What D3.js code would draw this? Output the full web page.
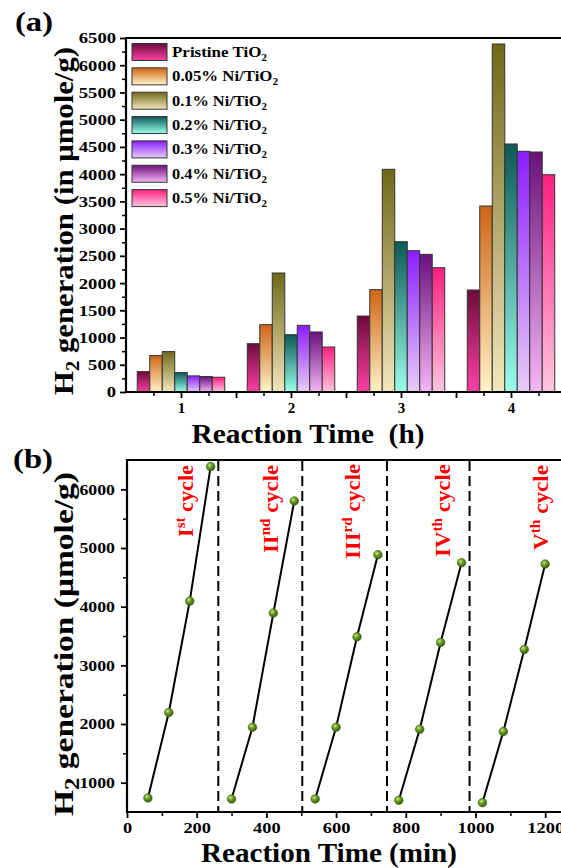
<!DOCTYPE html>
<html><head><meta charset="utf-8">
<script src="https://cdn.jsdelivr.net/npm/d3@7"></script>
<style>body{margin:0;background:#fff}svg{display:block}text{font-family:"Liberation Serif","Times New Roman",serif;font-weight:bold}</style>
</head><body>
<script>
// ---------- Data (a) ----------
const reactionHours = [1, 2, 3, 4];
const seriesNames = ["Pristine TiO", "0.05% Ni/TiO", "0.1% Ni/TiO", "0.2% Ni/TiO", "0.3% Ni/TiO", "0.4% Ni/TiO", "0.5% Ni/TiO"];
const pristineTiO2 = [375, 887, 1395, 1873];
const ni005 = [668, 1236, 1879, 3415];
const ni01 = [742, 2185, 4089, 6390];
const ni02 = [357, 1052, 2760, 4554];
const ni03 = [296, 1224, 2595, 4420];
const ni04 = [284, 1102, 2528, 4407];
const ni05 = [271, 826, 2283, 3990];
const seriesValues = [pristineTiO2, ni005, ni01, ni02, ni03, ni04, ni05];
const yTicksA = [0, 500, 1000, 1500, 2000, 2500, 3000, 3500, 4000, 4500, 5000, 5500, 6000, 6500];
const topColors = ["#6c0b3c", "#cf6516", "#6e6918", "#0d5956", "#8b1dff", "#6a117c", "#ff1f7f"];
const bottomColors = ["#ff40a6", "#fff3c6", "#f4e6bc", "#9affea", "#e8cdf6", "#f6b6f6", "#ffc6de"];

// ---------- Data (b) ----------
const cycleLabels = [["I","st"], ["II","nd"], ["III","rd"], ["IV","th"], ["V","th"]];
const cycleTimes = [[60,120,180,240],[300,360,420,480],[540,600,660,720],[780,840,900,960],[1020,1080,1140,1200]];
const cycleH2 = [[739,2196,4095,6387],[722,1945,3891,5802],[722,1945,3486,4886],[700,1911,3391,4749],[660,1872,3271,4727]];
const dividers = [262, 503, 746, 983];
const xTicksB = [0, 200, 400, 600, 800, 1000, 1200];
const yTicksB = [1000, 2000, 3000, 4000, 5000, 6000];

const W = 561, H = 868;
const svg = d3.select("body").append("svg").attr("width", W).attr("height", H);
const defs = svg.append("defs");

topColors.forEach((c, i) => {
  const g = defs.append("linearGradient").attr("id", "g" + i).attr("x1", 0).attr("y1", 0).attr("x2", 0).attr("y2", 1);
  g.append("stop").attr("offset", "0%").attr("stop-color", c);
  g.append("stop").attr("offset", "100%").attr("stop-color", bottomColors[i]);
});
const rg = defs.append("radialGradient").attr("id", "ball").attr("cx", "38%").attr("cy", "35%").attr("r", "65%");
rg.append("stop").attr("offset", "0%").attr("stop-color", "#c8e88a");
rg.append("stop").attr("offset", "45%").attr("stop-color", "#6a9a22");
rg.append("stop").attr("offset", "100%").attr("stop-color", "#3a5e0c");

// ---------- Panel (a) ----------
const xA = d3.scaleLinear().domain([0.5, 4.5]).range([126, 566]);
const yA = d3.scaleLinear().domain([0, 6500]).range([392, 38]);
const barW = 0.1136;

const gA = svg.append("g");
seriesValues.forEach((vals, si) => {
  gA.selectAll(null).data(reactionHours.map((t, k) => ({t, v: vals[k]}))).join("rect")
    .attr("x", d => xA(d.t + (si - 3.5) * barW))
    .attr("width", d => xA(d.t + (si - 2.5) * barW) - xA(d.t + (si - 3.5) * barW))
    .attr("y", d => yA(d.v))
    .attr("height", d => yA(0) - yA(d.v))
    .attr("fill", `url(#g${si})`)
    .attr("stroke", "#333").attr("stroke-width", 1);
});

function styleAxis(g, tickW) {
  g.select(".domain").remove();
  g.selectAll(".tick line").attr("stroke", "#000").attr("stroke-width", tickW);
  g.selectAll("text").attr("font-size", 15.5).attr("fill", "#000").attr("font-family", '"Liberation Serif",serif').attr("font-weight", "bold");
}
// y minor & major
const yAminor = gA.append("g").attr("transform", "translate(126,0)")
  .call(d3.axisLeft(yA).tickValues(d3.range(250, 6500, 500)).tickSize(4).tickFormat(""));
styleAxis(yAminor, 1.5);
const yAmajor = gA.append("g").attr("transform", "translate(126,0)")
  .call(d3.axisLeft(yA).tickValues(yTicksA).tickSize(6).tickPadding(4).tickFormat(d3.format("d")));
styleAxis(yAmajor, 1.8);
yAmajor.selectAll("text").attr("textLength", d => String(d).length * 9.3).attr("lengthAdjust", "spacingAndGlyphs");
// x ticks
const xAminor = gA.append("g").attr("transform", "translate(0,392)")
  .call(d3.axisBottom(xA).tickValues([0.75,1.25,1.75,2.25,2.75,3.25,3.75,4.25]).tickSize(4).tickFormat(""));
styleAxis(xAminor, 1.5);
const xAhalf = gA.append("g").attr("transform", "translate(0,392)")
  .call(d3.axisBottom(xA).tickValues([1.5,2.5,3.5]).tickSize(6).tickFormat(""));
styleAxis(xAhalf, 1.8);
const xAmajor = gA.append("g").attr("transform", "translate(0,392)")
  .call(d3.axisBottom(xA).tickValues(reactionHours).tickSize(6).tickPadding(4).tickFormat(d3.format("d")));
styleAxis(xAmajor, 1.8);
xAmajor.selectAll("text").attr("font-size", 15);
// frame
gA.append("line").attr("x1", 126).attr("x2", 561).attr("y1", 38).attr("y2", 38).attr("stroke", "#000").attr("stroke-width", 2);
gA.append("line").attr("x1", 126).attr("x2", 126).attr("y1", 37).attr("y2", 393).attr("stroke", "#000").attr("stroke-width", 2.2);
gA.append("line").attr("x1", 125).attr("x2", 561).attr("y1", 392).attr("y2", 392).attr("stroke", "#000").attr("stroke-width", 2.2);

// legend
const leg = gA.append("g");
seriesNames.forEach((name, i) => {
  const cy = 52 + i * 24.35;
  leg.append("rect").attr("x", 132).attr("y", cy - 8.5).attr("width", 35).attr("height", 17)
    .attr("fill", `url(#g${i})`).attr("stroke", "#333").attr("stroke-width", 1);
  const t = leg.append("text").attr("x", 172).attr("y", cy + 5).attr("font-size", 15).attr("fill", "#000")
    .attr("textLength", i === 1 ? 106 : 95).attr("lengthAdjust", "spacingAndGlyphs");
  t.append("tspan").text(name);
  t.append("tspan").attr("font-size", 10).attr("dy", 4).text("2");
});

// titles (a)
svg.append("text").attr("x", 15).attr("y", 31).attr("font-size", 28).attr("textLength", 38).attr("lengthAdjust", "spacingAndGlyphs").text("(a)");
const ytA = svg.append("text").attr("transform", "translate(73,221) rotate(-90)").attr("text-anchor", "middle")
  .attr("font-size", 27).attr("textLength", 348).attr("lengthAdjust", "spacingAndGlyphs");
ytA.append("tspan").text("H");
ytA.append("tspan").attr("font-size", 18).attr("dy", 6).text("2");
ytA.append("tspan").attr("dy", -6).text(" generation (in μmole/g)");
svg.append("text").attr("x", 308).attr("y", 443).attr("text-anchor", "middle").attr("font-size", 28)
  .attr("textLength", 233).attr("lengthAdjust", "spacingAndGlyphs").style("white-space", "pre").text("Reaction Time  (h)");

// ---------- Panel (b) ----------
const xB = d3.scaleLinear().domain([0, 1250]).range([127, 562.6]);
const yB = d3.scaleLinear().domain([500, 6500]).range([812, 460]);
const gB = svg.append("g");

dividers.forEach(d => {
  gB.append("line").attr("x1", xB(d)).attr("x2", xB(d)).attr("y1", 461).attr("y2", 811)
    .attr("stroke", "#000").attr("stroke-width", 2).attr("stroke-dasharray", "10,5");
});
const line = d3.line().x(d => xB(d[0])).y(d => yB(d[1]));
cycleTimes.forEach((ts, ci) => {
  const pts = ts.map((t, k) => [t, cycleH2[ci][k]]);
  gB.append("path").attr("d", line(pts)).attr("fill", "none").attr("stroke", "#000").attr("stroke-width", 2);
  gB.selectAll(null).data(pts).join("circle").attr("cx", d => xB(d[0])).attr("cy", d => yB(d[1])).attr("r", 4.3)
    .attr("fill", "url(#ball)").attr("stroke", "#3d5f12").attr("stroke-width", 0.6);
});

const yBminor = gB.append("g").attr("transform", "translate(127,0)")
  .call(d3.axisLeft(yB).tickValues([1500, 2500, 3500, 4500, 5500]).tickSize(4).tickFormat(""));
styleAxis(yBminor, 1.5);
const yBmajor = gB.append("g").attr("transform", "translate(127,0)")
  .call(d3.axisLeft(yB).tickValues(yTicksB).tickSize(6).tickPadding(6).tickFormat(d3.format("d")));
styleAxis(yBmajor, 1.8);
yBmajor.selectAll("text").attr("textLength", d => String(d).length * 8.9).attr("lengthAdjust", "spacingAndGlyphs");
const xBminor = gB.append("g").attr("transform", "translate(0,812)")
  .call(d3.axisBottom(xB).tickValues(d3.range(100, 1300, 200)).tickSize(4).tickFormat(""));
styleAxis(xBminor, 1.5);
const xBmajor = gB.append("g").attr("transform", "translate(0,812)")
  .call(d3.axisBottom(xB).tickValues(xTicksB).tickSize(6).tickPadding(4).tickFormat(d3.format("d")));
styleAxis(xBmajor, 1.8);
xBmajor.selectAll("text").attr("font-size", 15).attr("textLength", d => String(d).length * 9.2).attr("lengthAdjust", "spacingAndGlyphs");

gB.append("line").attr("x1", 127).attr("x2", 561).attr("y1", 460).attr("y2", 460).attr("stroke", "#000").attr("stroke-width", 2);
gB.append("line").attr("x1", 127).attr("x2", 127).attr("y1", 459).attr("y2", 813).attr("stroke", "#000").attr("stroke-width", 2.2);
gB.append("line").attr("x1", 126).attr("x2", 561).attr("y1", 812).attr("y2", 812).attr("stroke", "#000").attr("stroke-width", 2.2);

// cycle labels
const cyclePos = [[192.5, 537, 72], [278, 553, 88], [360, 559, 95], [450, 557, 93], [548, 550, 85]];
cycleLabels.forEach((lab, i) => {
  const [bx, by, len] = cyclePos[i];
  const t = gB.append("text").attr("transform", `translate(${bx},${by}) rotate(-90)`).attr("fill", "#ff0000")
    .attr("font-size", 21).attr("textLength", len).attr("lengthAdjust", "spacingAndGlyphs");
  t.append("tspan").text(lab[0]);
  t.append("tspan").attr("font-size", 14).attr("dy", -8).text(lab[1]);
  t.append("tspan").attr("dy", 8).text(" cycle");
});

// titles (b)
svg.append("text").attr("x", 13).attr("y", 468).attr("font-size", 28).attr("textLength", 40).attr("lengthAdjust", "spacingAndGlyphs").text("(b)");
const ytB = svg.append("text").attr("transform", "translate(73,644) rotate(-90)").attr("text-anchor", "middle")
  .attr("font-size", 27).attr("textLength", 344).attr("lengthAdjust", "spacingAndGlyphs");
ytB.append("tspan").text("H");
ytB.append("tspan").attr("font-size", 20).attr("dy", 6).text("2");
ytB.append("tspan").attr("dy", -6).text(" generation (μmole/g)");
svg.append("text").attr("x", 329).attr("y", 862).attr("text-anchor", "middle").attr("font-size", 27.5)
  .attr("textLength", 256).attr("lengthAdjust", "spacingAndGlyphs").text("Reaction Time (min)");
</script>
</body></html>
